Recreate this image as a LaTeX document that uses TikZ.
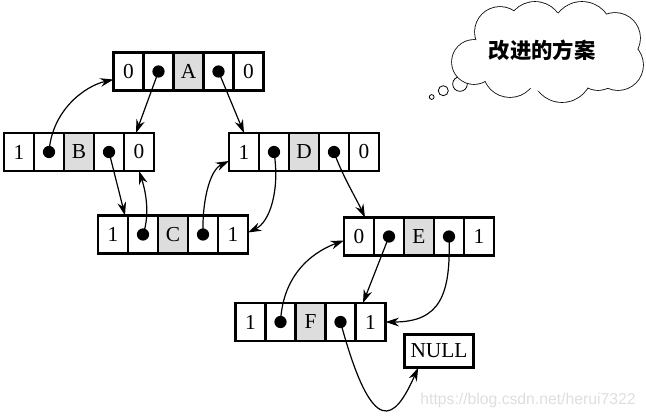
\documentclass[tikz,border=0pt]{standalone}
\usepackage{fontspec}
\setmainfont{Liberation Serif}
\setsansfont{Liberation Sans}
\newfontfamily\cjk{Noto Sans CJK SC}
\usetikzlibrary{positioning,calc,arrows.meta}

\begin{document}
\begin{tikzpicture}[
    x=0.75pt, y=-0.75pt,
    cell/.style={rectangle, draw, line width=1.8pt, minimum width=22.5pt, minimum height=28.5pt, inner sep=0pt, outer sep=0pt, font=\fontsize{16}{16}\selectfont},
    data/.style={cell, fill=gray!27},
    link/.style={line width=0.9pt, -{Stealth[length=10pt, width=6.5pt]}},
    bubble/.style={circle, draw, line width=0.6pt, fill=white, inner sep=0pt},
]
\useasboundingbox (0,0) rectangle (646,419);

\foreach \n/\x/\y/\l/\d/\r in {A/113.5/52.5/0/A/0, B/4/133/1/B/0, D/229/133/1/D/0, C/98/215.5/1/C/1, E/344/217.5/0/E/1, F/235.5/303/1/F/1}
{
    \node[cell, anchor=north west] (\n1) at (\x,\y) {\l};
    \node[cell, right=0pt of \n1] (\n2) {};
    \node[data, right=0pt of \n2] (\n3) {\d};
    \node[cell, right=0pt of \n3] (\n4) {};
    \node[cell, right=0pt of \n4] (\n5) {\r};
    \fill (\n2.center) circle (4.6pt);
    \fill (\n4.center) circle (4.6pt);
}
\node[cell, minimum width=52pt, minimum height=25pt] (null) at (439,351) {NULL};

\draw[link] (B2.center) .. controls (52,110) and (85,86) .. ($(A1.west)+(0,8)$);
\draw[link] (A2.center) -- ($(B5.north)!0.2!(B5.north west)$);
\draw[link] (A4.center) -- (D1.north);
\draw[link] (B4.center) -- ($(C1.north)!0.8!(C1.north east)$);
\draw[link] (C2.center) .. controls (150,215) and (146,192) .. (B5.south);
\draw[link] (C4.center) .. controls (202,200) and (210,170) .. ($(D1.west)+(0,9)$);
\draw[link] (D2.center) .. controls (280,190) and (270,222) .. ($(C5.east)+(0,-2)$);
\draw[link] (D4.center) .. controls (342,175) and (356,198) .. ($(E1.north)!0.4!(E1.north east)$);
\draw[link] (F2.center) .. controls (283,270) and (318,250) .. ($(E1.west)+(0,4)$);
\draw[link] (E2.center) -- ($(F5.north west)!0.25!(F5.north east)$);
\draw[link] (E4.center) .. controls (451,295) and (440,322) .. (F5.east);
\draw[link] (F4.center) .. controls (373,442) and (395,420) .. ($(null.south west)!0.2!(null.south east)$);

% thought cloud
\node[bubble, minimum size=3.6pt] (b1) at (431.7,97) {};
\node[bubble, minimum size=7.5pt] (b2) at (443.3,90.7) {};
\node[bubble, minimum size=11pt] (b3) at (460,84) {};
\foreach \cx/\cy/\cr in {474/62/22, 500/32/25, 535/30/28, 582/32/30, 615/38/25, 618/65/25, 598/68/22, 562/72/30, 510/70/27}
    \draw[line width=1.2pt] (\cx,\cy) circle[radius=\cr];
\foreach \cx/\cy/\cr in {474/62/22, 500/32/25, 535/30/28, 582/32/30, 615/38/25, 618/65/25, 598/68/22, 562/72/30, 510/70/27, 548/52/40, 515/52/32, 585/52/32}
    \fill[white] (\cx,\cy) circle[radius=\cr];
\node[font=\cjk\bfseries\fontsize{16}{16}\selectfont] (idea) at (542,50) {改进的方案};

\node[text=black!13, font=\sffamily\fontsize{11.8}{12}\selectfont] (mark) at (528,400) {https://blog.csdn.net/herui7322};
\end{tikzpicture}
\end{document}
